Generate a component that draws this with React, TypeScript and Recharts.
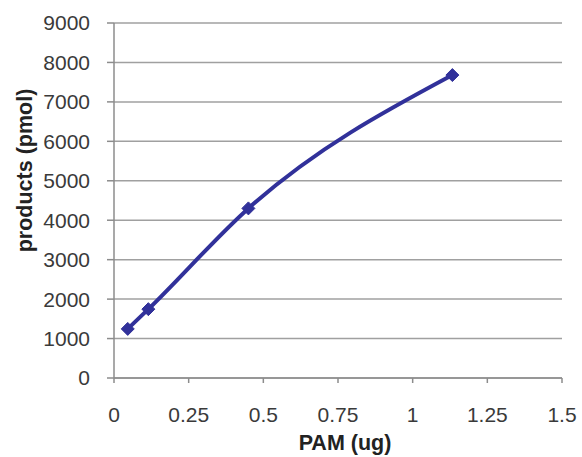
import {
  LineChart,
  Line,
  XAxis,
  YAxis,
  CartesianGrid,
  Label,
} from "recharts";

const pamUg = [0.046, 0.115, 0.45, 1.133];
const productsPmol = [1245, 1745, 4300, 7680];
const xTicks = [0, 0.25, 0.5, 0.75, 1, 1.25, 1.5];
const yTicks = [0, 1000, 2000, 3000, 4000, 5000, 6000, 7000, 8000, 9000];

const data = pamUg.map((x, i) => ({ x, y: productsPmol[i] }));

const LINE = "#31319a";
const GRID = "#a0a0a0";
const TEXT = "#3a3a3a";
const FONT = "'Liberation Sans', Arial, sans-serif";

const Diamond = (props: any) => {
  const { cx, cy } = props;
  if (cx == null || cy == null) return null;
  const r = 6.5;
  return (
    <polygon
      points={`${cx},${cy - r} ${cx + r},${cy} ${cx},${cy + r} ${cx - r},${cy}`}
      fill={LINE}
      stroke={LINE}
    />
  );
};

export default function App() {
  return (
    <div
      style={{
        position: "fixed",
        top: 0,
        left: 0,
        width: 582,
        height: 457,
        background: "#fff",
      }}
    >
      <LineChart
        width={582}
        height={457}
        data={data}
        margin={{ top: 23, right: 20, bottom: 0, left: 0 }}
        style={{ fontFamily: FONT }}
      >
        <CartesianGrid vertical={false} stroke={GRID} strokeWidth={1.5} />
        <XAxis
          dataKey="x"
          type="number"
          domain={[0, 1.5]}
          ticks={xTicks}
          height={79}
          stroke="#8c8c8c"
          strokeWidth={1.5}
          tickSize={5}
          tickMargin={24}
          tick={{ fill: TEXT, fontSize: 21 }}
        >
          <Label
            content={({ viewBox }: any) => (
              <text
                x={viewBox.x + viewBox.width / 2 + 7}
                y={viewBox.y + 72}
                textAnchor="middle"
                fill="#222"
                fontSize={21.5}
                fontWeight="bold"
                fontFamily={FONT}
              >
                PAM (ug)
              </text>
            )}
          />
        </XAxis>
        <YAxis
          dataKey="y"
          type="number"
          domain={[0, 9000]}
          ticks={yTicks}
          width={114}
          stroke="#8c8c8c"
          strokeWidth={1.5}
          tickSize={7}
          tickMargin={17}
          tick={{ fill: TEXT, fontSize: 21 }}
        >
          <Label
            content={({ viewBox }: any) => {
              const cx = viewBox.x + 25;
              const cy = viewBox.y + viewBox.height / 2 - 30;
              return (
                <text
                  x={cx}
                  y={cy}
                  transform={`rotate(-90 ${cx} ${cy})`}
                  textAnchor="middle"
                  dominantBaseline="central"
                  fill="#222"
                  fontSize={21.5}
                  fontWeight="bold"
                  fontFamily={FONT}
                >
                  products (pmol)
                </text>
              );
            }}
          />
        </YAxis>
        <Line
          type="monotone"
          dataKey="y"
          stroke={LINE}
          strokeWidth={4}
          dot={<Diamond />}
          activeDot={false}
          isAnimationActive={false}
        />
      </LineChart>
    </div>
  );
}
